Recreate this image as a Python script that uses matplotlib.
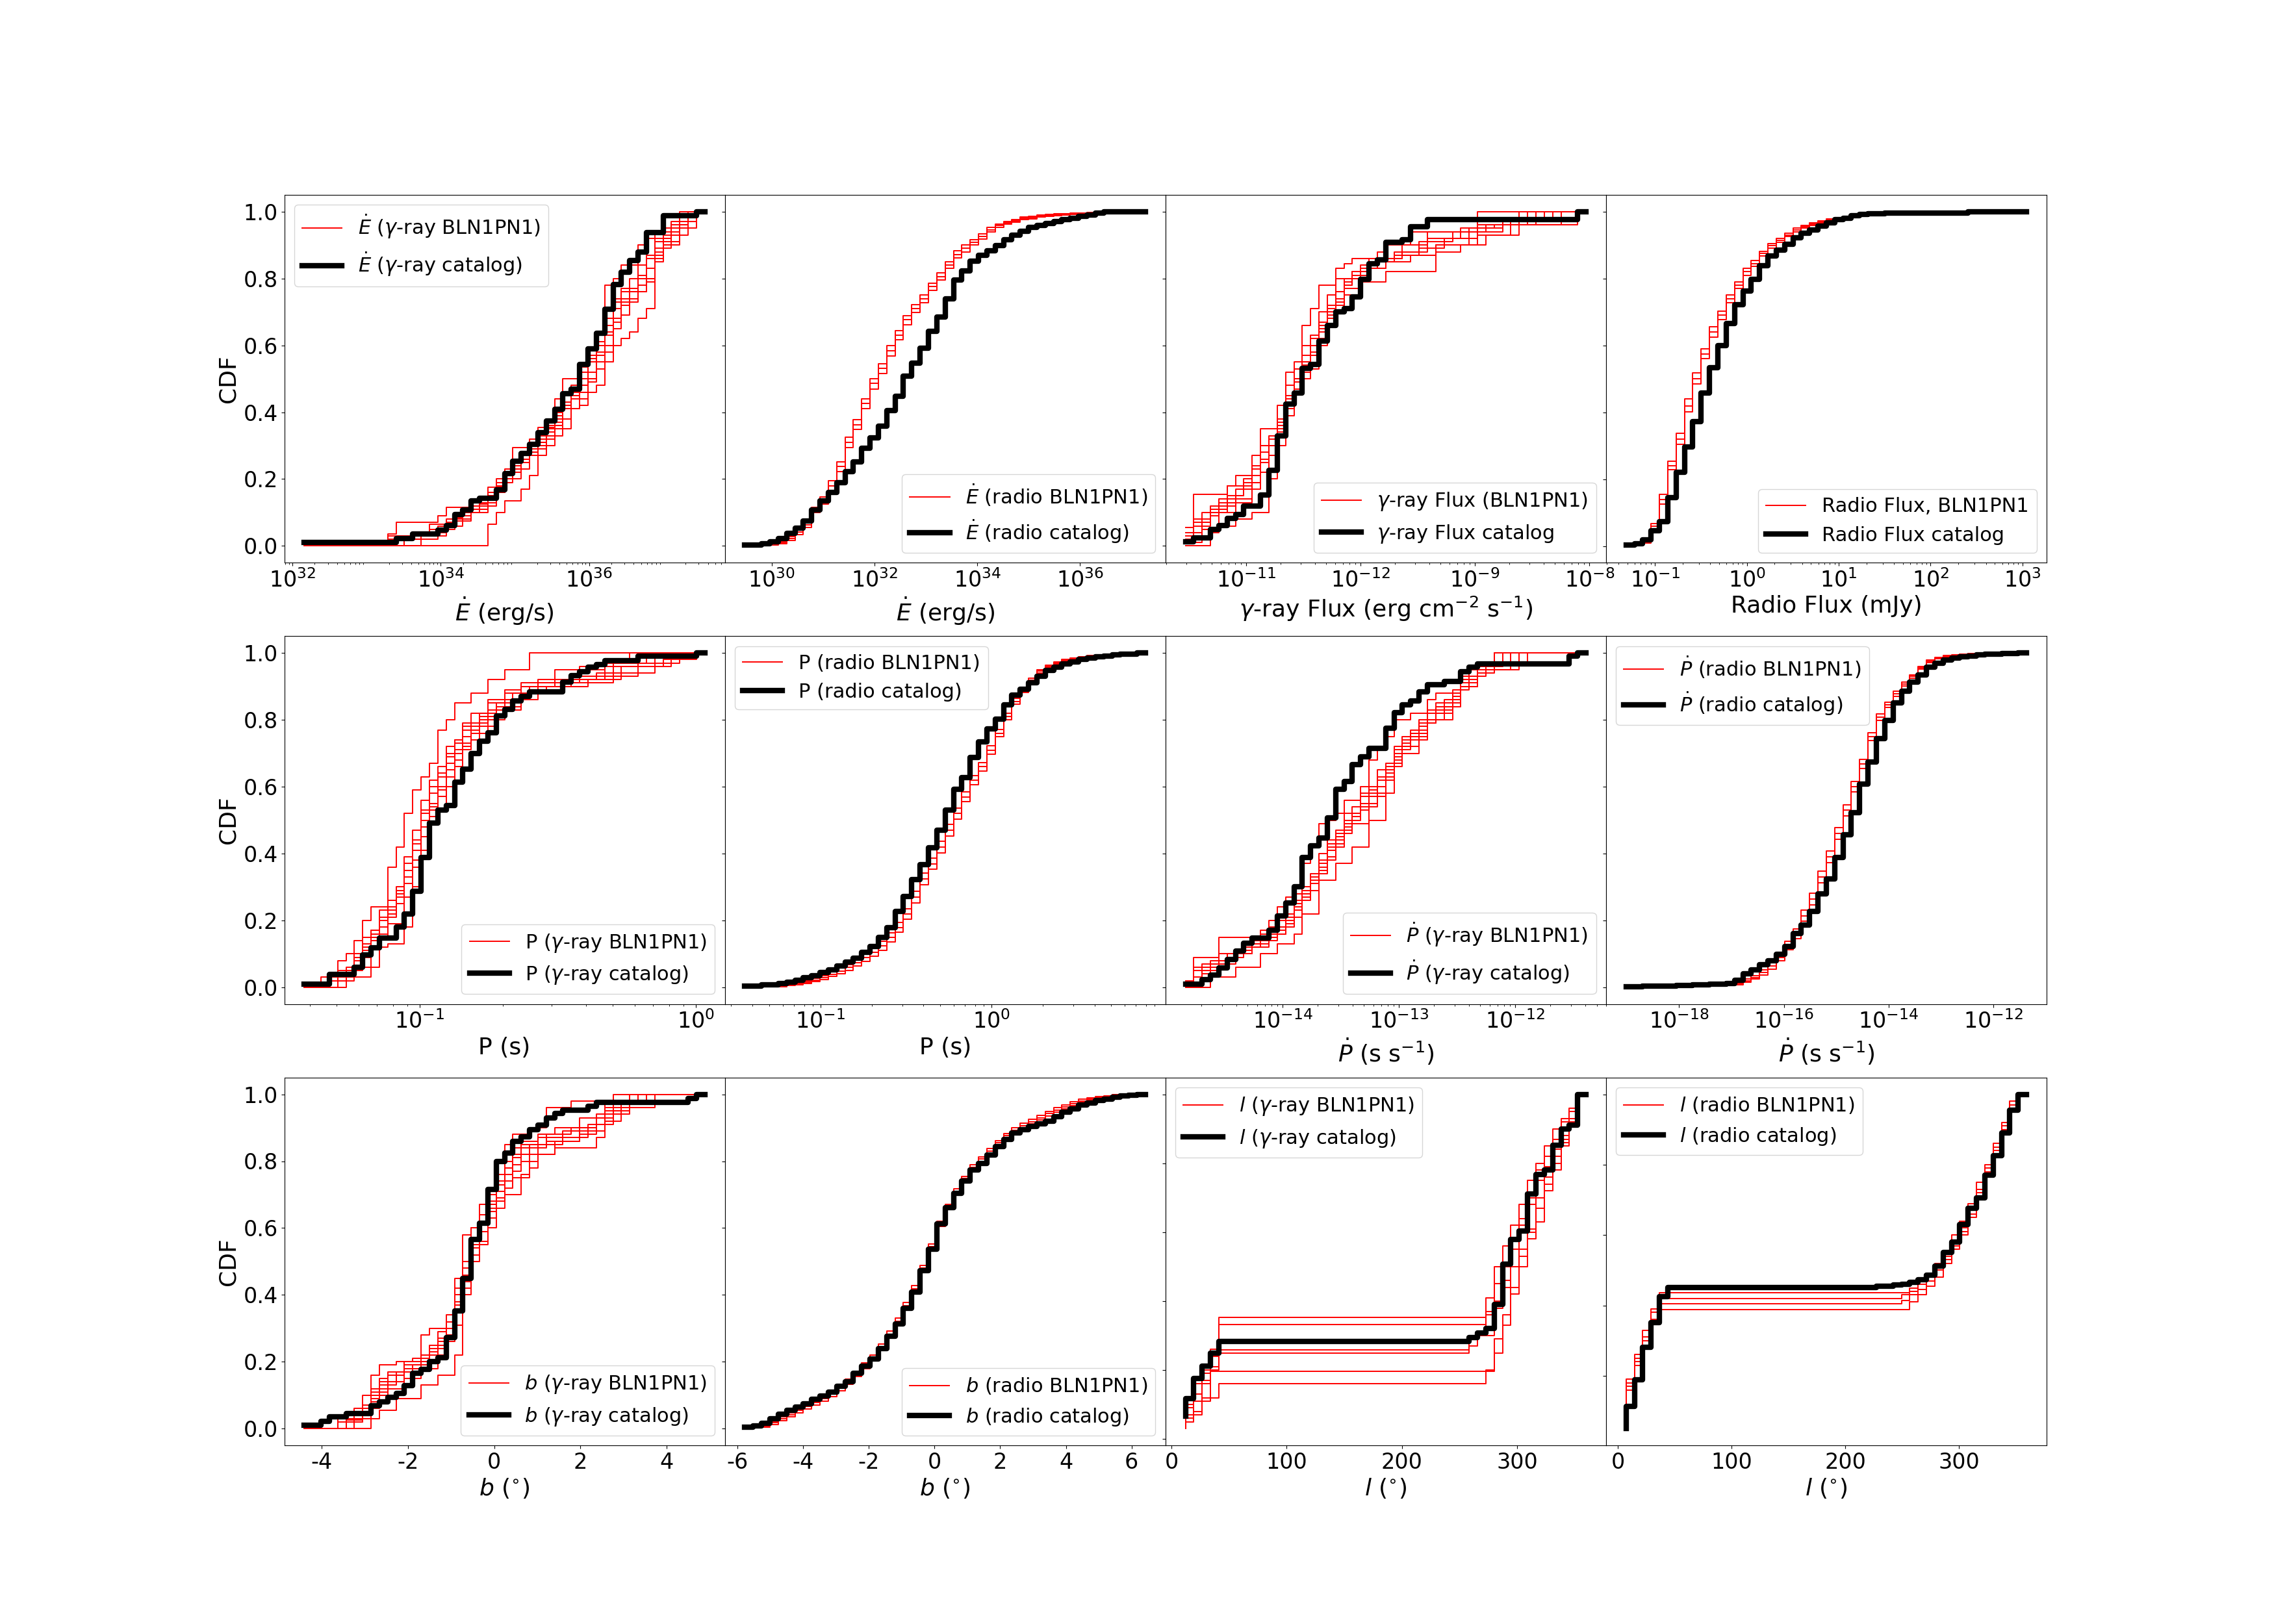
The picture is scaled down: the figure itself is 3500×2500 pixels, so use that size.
import numpy as np
import matplotlib
matplotlib.use("Agg")
import matplotlib.pyplot as plt

plt.rcParams['axes.unicode_minus'] = False

N_BINS = 48   # every curve is a cumulative histogram on 48 common bins

# ---------------------------------------------------------------------------
# data: bin range of each panel, catalog CDF and BLN1PN1 realisations.
# a curve is (value at first edge, steps) ; steps is either a list of
# (bin index, level reached) or the full list of 48 bin levels
# ---------------------------------------------------------------------------

# Edot, gamma-ray pulsars (log10 erg/s)
edot_g_lim = (32.16, 37.56)
edot_g_cat = (0.010, [(11, .023), (13, .035), (16, .047), (17, .061), (18, .095), (19, .108),
                      (20, .134), (21, .143), (23, .167), (24, .217), (25, .253), (26, .277),
                      (27, .304), (28, .338), (29, .374), (30, .408), (31, .455), (32, .469),
                      (33, .543), (34, .589), (35, .637), (36, .709), (37, .782), (38, .819),
                      (39, .854), (40, .879), (41, .938), (43, .988), (47, 1.0)])
edot_g_sim = [
    (0.0, [(10, .036), (11, .071), (16, .09), (17, .115), (20, .13), (22, .175), (24, .22),
           (25, .295), (27, .32), (28, .355), (30, .44), (31, .5), (33, .535), (34, .56),
           (35, .6), (36, .78), (37, .8), (38, .84), (40, .9), (41, .92), (42, .94), (45, 1.0)]),
    (0.0, [(22, .065), (23, .1), (24, .135), (26, .17), (27, .21), (28, .27), (29, .3),
           (30, .35), (32, .41), (33, .42), (34, .46), (35, .48), (36, .55), (37, .6),
           (38, .62), (39, .64), (40, .68), (41, .71), (42, .86), (43, .9), (44, .93),
           (46, .97), (47, 1.0)]),
    (0.0, [(10, .03), (13, .04), (15, .065), (18, .085), (19, .1), (21, .12), (23, .18),
           (24, .23), (26, .25), (27, .3), (28, .33), (30, .37), (31, .42), (32, .47),
           (33, .5), (35, .55), (36, .6), (37, .67), (38, .73), (39, .76), (41, .8),
           (42, .88), (43, .93), (44, .97), (47, 1.0)]),
    (0.0, [(14, .03), (17, .06), (19, .08), (20, .1), (22, .15), (23, .2), (25, .25),
           (26, .28), (28, .31), (29, .35), (30, .38), (31, .45), (33, .48), (34, .55),
           (35, .63), (37, .68), (38, .72), (39, .74), (40, .8), (42, .85), (43, .9),
           (45, .96), (46, 1.0)]),
    (0.0, [(11, .03), (15, .05), (17, .07), (18, .1), (21, .125), (22, .16), (24, .21),
           (25, .23), (26, .26), (27, .29), (29, .32), (30, .4), (31, .41), (33, .44),
           (34, .52), (35, .57), (36, .64), (37, .71), (38, .76), (40, .78), (41, .83),
           (42, .89), (44, .95), (46, .97), (47, 1.0)]),
    (0.0, [(12, .02), (16, .05), (18, .075), (20, .11), (22, .13), (23, .16), (24, .2),
           (26, .23), (27, .28), (28, .3), (29, .33), (31, .41), (32, .46), (33, .48),
           (34, .5), (35, .58), (36, .66), (37, .74), (39, .8), (40, .84), (41, .86),
           (42, .91), (43, .95), (45, .99), (46, 1.0)]),
    (0.0, [(10, .02), (14, .04), (17, .08), (19, .1), (21, .14), (23, .17), (24, .19),
           (25, .24), (26, .27), (28, .32), (29, .36), (30, .39), (31, .43), (32, .48),
           (33, .52), (34, .57), (35, .61), (36, .68), (37, .73), (38, .77), (40, .81),
           (41, .87), (42, .92), (44, .96), (46, 1.0)]),
    (0.0, [(12, .03), (16, .06), (18, .09), (20, .12), (22, .14), (23, .19), (24, .22),
           (26, .26), (27, .31), (29, .34), (30, .36), (31, .38), (32, .44), (33, .46),
           (34, .49), (35, .53), (36, .58), (37, .65), (38, .69), (39, .73), (40, .76),
           (41, .79), (42, .87), (43, .91), (45, .95), (47, 1.0)]),
]

# Edot, radio pulsars (log10 erg/s)
edot_r_lim = (29.48, 37.27)
edot_r_cat = (0.002, [.002, .002, .007, .012, .023, .037, .053, .074, .107, .135, .16, .19,
                      .223, .251, .293, .323, .358, .405, .447, .507, .546, .591, .642, .684,
                      .74, .795, .823, .851, .87, .882, .898, .916, .93, .942, .953, .958,
                      .965, .97, .977, .981, .985, .99, .995] + [1.0] * 5)
edot_r_sim = [
    (0.0, [0, 0, .004, .005, .009, .022, .042, .063, .108, .135, .18, .237, .31, .363, .426,
           .486, .531, .584, .63, .676, .71, .739, .776, .806, .84, .872, .89, .908, .925,
           .946, .958, .967, .973, .98, .982, .987, .988, .99, .992, .993, .994, .995, .997]
     + [1.0] * 5),
    (0.0, [0, .002, .006, .008, .013, .028, .05, .07, .116, .146, .195, .252, .325, .378, .44,
           .5, .545, .6, .643, .688, .722, .75, .786, .816, .85, .882, .9, .916, .933, .952,
           .963, .971, .977, .983, .985, .99, .991, .993, .994, .995, .996, .997, .999]
     + [1.0] * 5),
    (0.0, [0, 0, .002, .003, .006, .016, .034, .056, .1, .125, .166, .222, .295, .348, .41,
           .47, .516, .568, .617, .662, .698, .728, .765, .796, .83, .862, .88, .9, .917, .94,
           .953, .962, .969, .976, .979, .984, .986, .988, .99, .991, .992, .994, .996]
     + [1.0] * 5),
]

# gamma-ray energy flux (log10 erg cm^-2 s^-1)
gflux_lim = (-11.53, -8.03)
gflux_cat = (0.013, [(1, .025), (3, .049), (4, .061), (5, .083), (6, .094), (7, .119),
                     (9, .153), (10, .226), (11, .33), (12, .424), (13, .458), (14, .531),
                     (15, .543), (16, .612), (17, .659), (18, .701), (19, .71), (20, .744),
                     (21, .797), (22, .844), (23, .855), (24, .909), (26, .915), (27, .954),
                     (29, .976), (47, 1.0)])
gflux_sim = [
    (0.055, [(1, .155), (5, .18), (6, .21), (8, .27), (9, .35), (11, .42), (12, .52), (13, .55),
             (14, .66), (15, .71), (16, .78), (18, .83), (19, .845), (20, .86), (23, .88),
             (24, .9), (27, .94), (35, 1.0)]),
    (0.0, [(3, .04), (4, .06), (6, .08), (8, .1), (10, .2), (11, .3), (12, .39), (13, .46),
           (14, .5), (15, .53), (16, .6), (17, .66), (18, .7), (19, .75), (21, .79), (24, .82),
           (30, .88), (33, .9), (36, .93), (40, .96), (47, 1.0)]),
    (0.02, [(1, .08), (3, .12), (5, .14), (6, .17), (8, .24), (9, .3), (10, .33), (11, .37),
            (12, .48), (13, .53), (14, .6), (15, .63), (16, .7), (17, .75), (18, .8), (20, .82),
            (22, .86), (25, .88), (28, .91), (32, .94), (36, .96), (41, 1.0)]),
    (0.04, [(2, .1), (4, .14), (5, .18), (7, .2), (8, .23), (9, .3), (11, .38), (12, .45),
            (13, .5), (14, .57), (16, .66), (17, .72), (19, .78), (20, .8), (21, .84),
            (23, .86), (26, .88), (29, .92), (33, .95), (38, .98), (43, 1.0)]),
    (0.03, [(1, .06), (3, .09), (4, .13), (6, .15), (7, .19), (9, .25), (10, .3), (11, .35),
            (12, .43), (13, .49), (14, .54), (15, .6), (16, .64), (17, .68), (18, .74),
            (19, .77), (21, .8), (22, .83), (24, .85), (27, .87), (30, .9), (35, .93),
            (39, .97), (44, 1.0)]),
    (0.01, [(2, .05), (4, .1), (6, .13), (8, .17), (9, .22), (10, .27), (11, .34), (12, .41),
            (13, .47), (14, .52), (15, .58), (16, .62), (17, .69), (18, .73), (19, .79),
            (20, .82), (22, .84), (23, .86), (26, .9), (29, .94), (34, .95), (37, .96),
            (42, 1.0)]),
    (0.03, [(1, .07), (3, .11), (5, .15), (7, .18), (8, .21), (9, .28), (10, .32), (11, .36),
            (12, .45), (13, .5), (14, .55), (15, .62), (16, .67), (17, .71), (18, .76),
            (19, .8), (21, .83), (23, .85), (25, .87), (28, .89), (31, .92), (35, .96),
            (40, 1.0)]),
    (0.01, [(2, .07), (3, .1), (5, .12), (6, .14), (8, .19), (9, .26), (10, .3), (11, .36),
            (12, .44), (13, .5), (14, .55), (15, .57), (16, .65), (17, .7), (18, .76),
            (19, .78), (20, .81), (22, .83), (24, .86), (26, .87), (30, .9), (34, .94),
            (38, .96), (45, 1.0)]),
]

# radio flux (log10 mJy)
rflux_lim = (-1.314, 3.044)
rflux_cat = (0.003, [.003, .007, .019, .047, .074, .146, .221, .296, .373, .458, .534, .599,
                     .665, .721, .762, .797, .838, .867, .885, .903, .922, .936, .946, .956,
                     .967, .976, .981, .987, .991, .994, .994, .996] + [.996] * 9
             + [.999] * 6 + [1.0])
rflux_sim = [
    (0.002, [.002, .006, .012, .06, .14, .24, .32, .42, .5, .575, .64, .69, .74, .78, .82,
             .845, .875, .898, .915, .93, .945, .955, .963, .97, .975, .979, .982, .985, .988,
             .99, .993, .995, .997, .998] + [1.0] * 14),
    (0.003, [.003, .008, .016, .068, .155, .255, .338, .44, .518, .59, .655, .703, .752, .79,
             .83, .853, .882, .904, .92, .935, .95, .959, .967, .973, .978, .982, .985, .988,
             .99, .992, .995, .997, .998, .999] + [1.0] * 14),
    (0.001, [.001, .004, .009, .052, .127, .228, .305, .402, .485, .56, .625, .677, .728, .77,
             .81, .836, .867, .891, .909, .925, .94, .951, .959, .966, .972, .976, .979, .982,
             .985, .988, .991, .993, .995, .997] + [1.0] * 14),
]

# period, gamma-ray pulsars (log10 s)
p_g_lim = (-1.418, 0.032)
p_g_cat = (0.0104, [(3, .038), (6, .06), (7, .097), (8, .119), (9, .147), (11, .18), (12, .219),
                    (13, .288), (14, .388), (15, .492), (16, .531), (17, .544), (18, .614),
                    (19, .653), (20, .70), (21, .737), (22, .761), (23, .811), (24, .832),
                    (25, .857), (26, .87), (27, .883), (31, .913), (32, .932), (33, .944),
                    (34, .957), (35, .965), (36, .977), (40, .99), (47, 1.0)])
p_g_sim = [
    (0.0, [(2, .03), (4, .08), (5, .1), (6, .14), (7, .2), (8, .24), (10, .36), (11, .42),
           (12, .52), (13, .59), (14, .63), (15, .67), (16, .77), (17, .8), (18, .85),
           (20, .88), (22, .92), (24, .95), (27, 1.0)]),
    (0.0, [(5, .03), (8, .06), (9, .12), (10, .13), (12, .18), (13, .3), (14, .41), (15, .51),
           (16, .53), (17, .6), (18, .66), (19, .72), (20, .74), (21, .78), (23, .83),
           (26, .86), (28, .9), (34, .92), (38, .96), (43, .98), (47, 1.0)]),
    (0.0, [(3, .03), (5, .06), (6, .1), (7, .15), (9, .2), (10, .26), (11, .3), (12, .39),
           (13, .47), (14, .56), (15, .62), (16, .66), (17, .72), (18, .74), (19, .78),
           (21, .8), (22, .85), (24, .89), (26, .9), (28, .92), (35, .94), (42, 1.0)]),
    (0.0, [(4, .04), (6, .09), (7, .11), (8, .16), (10, .22), (11, .25), (12, .33), (13, .41),
           (14, .5), (15, .55), (16, .6), (17, .67), (18, .7), (19, .75), (20, .79), (22, .83),
           (24, .86), (27, .9), (30, .92), (36, .97), (39, 1.0)]),
    (0.0, [(3, .02), (5, .05), (6, .08), (7, .13), (8, .17), (9, .23), (11, .28), (12, .35),
           (13, .43), (14, .52), (15, .58), (16, .63), (17, .69), (18, .73), (19, .77),
           (21, .82), (23, .85), (25, .88), (28, .91), (33, .96), (37, .97), (41, 1.0)]),
    (0.0, [(4, .03), (6, .06), (8, .12), (9, .15), (10, .19), (12, .27), (13, .36), (14, .45),
           (15, .53), (16, .57), (17, .63), (18, .68), (19, .71), (20, .76), (22, .8),
           (24, .84), (26, .88), (29, .9), (32, .93), (40, .97), (45, 1.0)]),
    (0.0, [(3, .03), (4, .05), (6, .09), (7, .12), (8, .17), (9, .21), (10, .24), (11, .29),
           (12, .37), (13, .44), (14, .53), (15, .6), (16, .64), (17, .7), (18, .74), (19, .79),
           (20, .82), (22, .86), (24, .88), (26, .91), (30, .95), (36, .98), (40, 1.0)]),
    (0.0, [(4, .02), (6, .05), (7, .09), (8, .14), (9, .18), (10, .21), (11, .27), (12, .31),
           (13, .38), (14, .48), (15, .54), (16, .59), (17, .65), (18, .71), (19, .73),
           (20, .77), (21, .81), (23, .84), (25, .86), (27, .89), (31, .91), (37, .96),
           (44, 1.0)]),
]

# period, radio pulsars (log10 s)
p_r_lim = (-1.443, 0.90)
p_r_cat = (0.005, [.005, .005, .009, .009, .012, .017, .023, .03, .036, .045, .054, .064,
                   .076, .089, .106, .123, .151, .18, .227, .273, .323, .368, .418, .47,
                   .531, .592, .628, .688, .735, .773, .802, .845, .874, .891, .911, .931,
                   .948, .958, .968, .974, .98, .985, .988, .991, .994, .996, .997, 1.0])
p_r_sim = [
    (0.002, [.002, .002, .003, .003, .004, .008, .012, .017, .023, .03, .04, .05, .06, .075,
             .09, .105, .125, .15, .18, .22, .27, .325, .37, .42, .47, .52, .57, .62, .66,
             .71, .76, .81, .855, .888, .918, .945, .96, .97, .977, .982, .987, .99, .993,
             .996, .998, 1.0, 1.0, 1.0]),
    (0.003, [.003, .003, .004, .005, .006, .01, .015, .021, .028, .036, .047, .058, .069,
             .085, .101, .117, .138, .164, .195, .236, .287, .342, .387, .437, .487, .536,
             .585, .634, .673, .722, .771, .82, .864, .895, .924, .95, .964, .973, .98, .985,
             .989, .992, .995, .997, .999, 1.0, 1.0, 1.0]),
    (0.001, [.001, .001, .002, .002, .003, .006, .009, .013, .018, .024, .033, .042, .051,
             .065, .079, .093, .112, .136, .165, .204, .253, .308, .353, .403, .453, .504,
             .555, .606, .647, .698, .749, .8, .846, .881, .912, .94, .956, .967, .974, .979,
             .985, .988, .991, .995, .997, 1.0, 1.0, 1.0]),
]

# period derivative, gamma-ray pulsars (log10 s/s)
pdot_g_lim = (-14.836, -11.393)
pdot_g_cat = (0.0104, [(2, .023), (3, .036), (4, .058), (5, .084), (6, .108), (7, .132),
                       (8, .148), (10, .171), (11, .214), (12, .253), (13, .301), (14, .388),
                       (15, .423), (16, .446), (17, .507), (18, .592), (19, .616), (20, .666),
                       (21, .69), (22, .714), (24, .775), (25, .822), (26, .845), (27, .857),
                       (28, .883), (29, .906), (31, .915), (33, .944), (34, .958), (35, .967),
                       (46, .99), (47, 1.0)])
pdot_g_sim = [
    (0.01, [(1, .09), (4, .15), (9, .17), (10, .2), (11, .24), (12, .27), (13, .3), (14, .37),
            (15, .42), (16, .49), (17, .5), (18, .52), (19, .56), (21, .6), (22, .68),
            (23, .72), (24, .75), (25, .8), (27, .82), (29, .86), (30, .88), (33, .95),
            (37, 1.0)]),
    (0.0, [(3, .03), (6, .06), (9, .1), (11, .13), (13, .16), (14, .22), (16, .32), (18, .37),
           (20, .42), (22, .5), (24, .58), (25, .66), (26, .7), (28, .75), (29, .8), (32, .86),
           (33, .9), (35, .95), (40, 1.0)]),
    (0.02, [(1, .06), (4, .1), (7, .13), (9, .16), (10, .18), (12, .22), (13, .26), (14, .3),
            (15, .34), (16, .4), (17, .44), (18, .47), (19, .52), (21, .57), (22, .6),
            (23, .65), (25, .7), (26, .74), (27, .77), (29, .82), (31, .86), (33, .92),
            (35, .97), (38, 1.0)]),
    (0.0, [(1, .05), (3, .08), (5, .1), (8, .14), (10, .17), (11, .2), (12, .25), (13, .28),
           (15, .32), (16, .36), (17, .42), (18, .45), (19, .5), (20, .54), (21, .58),
           (23, .62), (24, .66), (25, .72), (27, .76), (28, .79), (30, .84), (32, .88),
           (33, .93), (36, .96), (37, 1.0)]),
    (0.01, [(2, .04), (3, .07), (6, .11), (8, .12), (10, .15), (11, .18), (13, .21), (14, .26),
            (15, .29), (16, .35), (17, .38), (18, .43), (19, .47), (20, .49), (22, .55),
            (23, .58), (24, .63), (25, .68), (26, .72), (28, .78), (29, .83), (32, .87),
            (33, .91), (35, .94), (37, .97), (41, 1.0)]),
    (0.0, [(2, .06), (5, .09), (7, .12), (9, .14), (11, .16), (12, .19), (13, .24), (14, .27),
           (15, .31), (16, .37), (17, .41), (18, .42), (19, .46), (20, .5), (21, .53),
           (22, .57), (24, .62), (25, .67), (26, .73), (27, .76), (29, .8), (31, .84),
           (33, .89), (34, .95), (37, .97), (40, 1.0)]),
    (0.0, [(1, .03), (2, .07), (5, .1), (7, .13), (9, .15), (11, .17), (12, .21), (13, .25),
           (14, .29), (15, .33), (16, .38), (17, .43), (18, .46), (19, .49), (20, .52),
           (21, .55), (22, .59), (23, .63), (24, .67), (25, .71), (26, .75), (28, .8),
           (30, .85), (32, .89), (33, .93), (35, .96), (38, 1.0)]),
    (0.01, [(2, .05), (4, .08), (6, .1), (8, .13), (10, .16), (12, .2), (13, .23), (14, .28),
            (15, .31), (16, .34), (17, .39), (18, .44), (19, .48), (20, .51), (21, .54),
            (23, .6), (24, .64), (25, .69), (26, .71), (27, .74), (29, .79), (30, .82),
            (32, .85), (33, .9), (35, .95), (39, 1.0)]),
]

# period derivative, radio pulsars (log10 s/s)
pdot_r_lim = (-19.015, -11.36)
pdot_r_cat = (0.003, [.003, .003, .004, .004, .005, .005, .007, .007, .008, .008, .01, .01,
                      .012, .023, .041, .054, .069, .08, .1, .123, .162, .188, .227, .28,
                      .325, .388, .457, .523, .609, .674, .744, .798, .851, .885, .913, .935,
                      .958, .97, .978, .984, .988, .991, .994, .996, .996, .998, .998, 1.0])
pdot_r_sim = [
    (0.002, [.002, .002, .003, .003, .004, .004, .005, .005, .006, .006, .007, .008, .008,
             .012, .02, .03, .045, .065, .09, .125, .16, .215, .265, .33, .39, .46, .53, .6,
             .668, .75, .808, .845, .878, .907, .93, .955, .975, .985, .99, .993, .996, .998]
     + [1.0] * 6),
    (0.003, [.003, .003, .004, .004, .005, .005, .006, .006, .007, .008, .009, .01, .011,
             .016, .025, .036, .053, .075, .101, .138, .175, .232, .283, .348, .408, .478,
             .547, .616, .682, .762, .818, .853, .885, .913, .935, .959, .978, .987, .992,
             .995, .997, .999] + [1.0] * 6),
    (0.001, [.001, .001, .002, .002, .003, .003, .004, .004, .005, .005, .006, .006, .006,
             .009, .016, .025, .038, .056, .08, .113, .146, .199, .248, .313, .373, .443,
             .514, .585, .655, .738, .798, .837, .871, .901, .925, .951, .972, .983, .988,
             .991, .995, .997] + [1.0] * 6),
]

# Galactic latitude, gamma-ray pulsars (deg)
b_g_lim = (-4.40, 4.88)
b_g_cat = (0.0104, [(2, .0217), (3, .035), (5, .045), (8, .069), (9, .081), (10, .093),
                    (11, .106), (12, .128), (13, .165), (14, .178), (15, .201), (16, .213),
                    (17, .273), (18, .352), (19, .449), (20, .566), (21, .615), (22, .716),
                    (23, .799), (24, .825), (25, .859), (26, .872), (27, .894), (28, .907),
                    (29, .929), (30, .942), (31, .953), (34, .965), (35, .976), (46, .988),
                    (47, 1.0)])
b_g_sim = [
    (0.0, [(4, .03), (6, .06), (7, .1), (8, .16), (9, .19), (11, .2), (13, .21), (14, .28),
           (15, .3), (17, .34), (18, .45), (19, .58), (20, .6), (21, .67), (22, .72), (23, .8),
           (24, .85), (25, .88), (27, .9), (29, .96), (32, .98), (37, 1.0)]),
    (0.0, [(8, .03), (9, .055), (11, .09), (14, .13), (16, .16), (18, .22), (19, .4), (20, .5),
           (21, .56), (22, .63), (23, .69), (24, .72), (25, .75), (27, .78), (28, .82),
           (30, .84), (35, .87), (36, .96), (38, .97), (40, 1.0)]),
    (0.0, [(5, .025), (7, .07), (8, .12), (10, .16), (12, .19), (14, .22), (15, .25),
           (16, .29), (17, .32), (18, .42), (19, .5), (20, .6), (21, .64), (22, .7), (23, .76),
           (24, .8), (25, .84), (26, .86), (28, .88), (30, .9), (33, .93), (36, .97),
           (40, 1.0)]),
    (0.0, [(4, .02), (7, .05), (8, .09), (9, .13), (11, .16), (12, .18), (14, .2), (15, .23),
           (16, .27), (17, .3), (18, .38), (19, .48), (20, .55), (21, .62), (22, .66),
           (23, .73), (24, .78), (25, .81), (26, .84), (29, .86), (33, .88), (35, .91),
           (37, .95), (39, 1.0)]),
    (0.0, [(6, .03), (8, .06), (9, .11), (10, .14), (12, .15), (14, .18), (16, .24), (17, .27),
           (18, .35), (19, .44), (20, .54), (21, .59), (22, .65), (23, .68), (24, .74),
           (25, .77), (26, .8), (27, .82), (28, .85), (31, .87), (34, .89), (36, .92),
           (38, .96), (42, 1.0)]),
    (0.0, [(5, .02), (7, .04), (8, .08), (9, .1), (10, .12), (12, .17), (13, .19), (15, .2),
           (16, .22), (17, .26), (18, .31), (19, .42), (20, .52), (21, .55), (22, .6),
           (23, .66), (24, .7), (26, .76), (27, .8), (28, .82), (30, .86), (33, .9), (35, .94),
           (39, .97), (41, 1.0)]),
    (0.0, [(5, .03), (7, .06), (8, .1), (9, .14), (11, .17), (13, .19), (14, .21), (15, .24),
           (16, .26), (17, .3), (18, .4), (19, .5), (20, .57), (21, .62), (22, .68), (23, .74),
           (24, .78), (25, .82), (26, .85), (28, .87), (31, .89), (34, .91), (36, .95),
           (38, .98), (40, 1.0)]),
    (0.0, [(4, .03), (6, .05), (8, .11), (9, .15), (10, .17), (12, .2), (14, .22), (16, .25),
           (17, .28), (18, .37), (19, .46), (20, .56), (21, .61), (22, .67), (23, .71),
           (24, .76), (25, .79), (26, .82), (27, .85), (29, .88), (32, .9), (35, .93),
           (37, .97), (41, 1.0)]),
]

# Galactic latitude, radio pulsars (deg)
b_r_lim = (-5.77, 6.42)
b_r_cat = (0.004, [.004, .009, .017, .03, .043, .054, .065, .074, .087, .097, .109, .126,
                   .141, .165, .187, .208, .239, .276, .314, .36, .408, .473, .536, .612,
                   .661, .703, .74, .773, .794, .818, .844, .866, .884, .894, .903, .911,
                   .92, .933, .946, .957, .968, .974, .981, .985, .991, .996, .998, 1.0])
b_r_sim = [
    (0.0, [0.0, .004, .008, .018, .03, .042, .055, .066, .078, .09, .104, .122, .14, .163,
           .188, .212, .245, .283, .322, .368, .418, .48, .545, .612, .664, .71, .748, .782,
           .806, .83, .855, .876, .893, .906, .918, .93, .942, .953, .963, .972, .98, .986,
           .99, .994, .997, 1.0, 1.0, 1.0]),
    (0.0, [.002, .006, .011, .022, .035, .048, .061, .072, .085, .097, .111, .13, .148, .172,
           .197, .221, .254, .292, .331, .377, .427, .489, .553, .62, .671, .717, .755, .789,
           .813, .837, .862, .883, .9, .913, .925, .937, .949, .96, .969, .978, .985, .99,
           .993, .996, .999, 1.0, 1.0, 1.0]),
    (0.0, [0.0, .002, .005, .013, .024, .035, .048, .059, .07, .082, .096, .114, .132, .155,
           .18, .204, .237, .275, .314, .36, .41, .472, .538, .605, .658, .703, .741, .775,
           .799, .823, .848, .869, .886, .899, .911, .923, .935, .946, .957, .966, .975, .982,
           .987, .992, .995, 1.0, 1.0, 1.0]),
]

# Galactic longitude, gamma-ray pulsars (deg)
l_g_lim = (12.1, 359.8)
l_g_cat = (0.066, [(0, .117), (1, .176), (2, .212), (3, .249), (4, .283), (34, .294),
                   (35, .307), (36, .32), (37, .391), (38, .508), (39, .579), (40, .603),
                   (41, .71), (42, .768), (43, .78), (44, .852), (45, .899), (46, .911),
                   (47, 1.0)])
l_g_sim = [
    (0.05, [(0, .12), (1, .16), (2, .19), (3, .26), (4, .353), (36, .41), (37, .5), (38, .56),
            (39, .62), (40, .68), (41, .75), (42, .8), (43, .85), (44, .9), (45, .93),
            (46, .96), (47, 1.0)]),
    (0.03, [(0, .1), (1, .13), (2, .2), (3, .24), (4, .332), (36, .37), (37, .45), (38, .5),
            (39, .58), (40, .64), (41, .7), (42, .78), (43, .82), (44, .87), (45, .92),
            (46, .95), (47, 1.0)]),
    (0.04, [(0, .09), (1, .13), (2, .17), (3, .21), (4, .258), (34, .3), (35, .31), (36, .36),
            (37, .4), (38, .46), (39, .55), (40, .62), (41, .68), (42, .75), (43, .79),
            (44, .84), (45, .88), (46, .93), (47, 1.0)]),
    (0.03, [(0, .07), (1, .11), (2, .16), (3, .2), (4, .25), (34, .27), (35, .3), (37, .38),
            (38, .44), (39, .5), (40, .55), (41, .6), (42, .7), (43, .76), (44, .82), (45, .86),
            (46, .92), (47, 1.0)]),
    (0.03, [(0, .05), (1, .07), (2, .11), (3, .197), (37, .25), (38, .33), (39, .42), (40, .5),
            (41, .58), (42, .63), (43, .72), (44, .78), (45, .85), (46, .93), (47, 1.0)]),
    (0.03, [(0, .06), (1, .08), (2, .12), (4, .161), (36, .2), (37, .29), (38, .36), (39, .44),
            (40, .53), (41, .61), (42, .67), (43, .74), (44, .8), (45, .87), (46, .93),
            (47, 1.0)]),
]

# Galactic longitude, radio pulsars (deg)
l_r_lim = (7.1, 359.5)
l_r_cat = (0.05, [(0, .113), (1, .189), (2, .281), (3, .351), (4, .425), (5, .451), (30, .454),
                  (31, .455), (32, .458), (33, .46), (34, .466), (35, .474), (36, .487),
                  (37, .511), (38, .55), (39, .581), (40, .63), (41, .677), (42, .706),
                  (43, .77), (44, .825), (45, .891), (46, .954), (47, 1.0)])
l_r_sim = [
    (0.1, [(0, .19), (1, .26), (2, .33), (3, .39), (4, .437), (34, .45), (35, .47), (36, .49),
           (37, .52), (38, .55), (39, .6), (40, .64), (41, .69), (42, .75), (43, .8), (44, .86),
           (45, .92), (46, .98), (47, 1.0)]),
    (0.09, [(0, .17), (1, .24), (2, .31), (3, .38), (4, .42), (33, .43), (34, .44), (35, .46),
            (36, .48), (37, .51), (38, .54), (39, .58), (40, .62), (41, .67), (42, .73),
            (43, .79), (44, .85), (45, .91), (46, .97), (47, 1.0)]),
    (0.08, [(0, .16), (1, .23), (2, .3), (3, .36), (4, .405), (33, .415), (34, .43),
            (35, .445), (36, .47), (37, .5), (38, .53), (39, .57), (40, .61), (41, .66),
            (42, .72), (43, .78), (44, .84), (45, .9), (46, .96), (47, 1.0)]),
    (0.1, [(0, .18), (1, .25), (2, .31), (3, .35), (4, .388), (34, .41), (35, .43), (36, .455),
           (37, .48), (38, .52), (39, .56), (40, .6), (41, .65), (42, .71), (43, .77), (44, .83),
           (45, .89), (46, .95), (47, 1.0)]),
]


def cdf_curve(curve):
    """Turn (start, steps) into the 49 values drawn with where='pre'."""
    start, steps = curve
    if len(steps) and isinstance(steps[0], tuple):
        lev = np.full(N_BINS, start, dtype=float)
        for k, v in steps:
            lev[k:] = v
    else:
        lev = np.array(list(steps)[:N_BINS], dtype=float)
        if len(lev) < N_BINS:
            lev = np.concatenate([lev, np.full(N_BINS - len(lev), lev[-1])])
    return np.concatenate([[start], lev])


def bin_edges(lim, log):
    e = np.linspace(lim[0], lim[1], N_BINS + 1)
    return 10 ** e if log else e


panels = [
    # row 1
    dict(lim=edot_g_lim, cat=edot_g_cat, sim=edot_g_sim, log=True, loc='upper left',
         lab=(r'$\dot{E}$ ($\gamma$-ray BLN1PN1)', r'$\dot{E}$ ($\gamma$-ray catalog)'),
         xlabel=r'$\dot{E}$ (erg/s)', ticks=[1e32, 1e34, 1e36]),
    dict(lim=edot_r_lim, cat=edot_r_cat, sim=edot_r_sim, log=True, loc='lower right',
         lab=(r'$\dot{E}$ (radio BLN1PN1)', r'$\dot{E}$ (radio catalog)'),
         xlabel=r'$\dot{E}$ (erg/s)', ticks=[1e30, 1e32, 1e34, 1e36]),
    dict(lim=gflux_lim, cat=gflux_cat, sim=gflux_sim, log=True, loc='lower right',
         lab=(r'$\gamma$-ray Flux (BLN1PN1)', r'$\gamma$-ray Flux catalog'),
         xlabel=r'$\gamma$-ray Flux (erg cm$^{-2}$ s$^{-1}$)',
         ticks=[1e-11, 1e-10, 1e-9, 1e-8],
         ticklabels=[r'$10^{-11}$', r'$10^{-12}$', r'$10^{-9}$', r'$10^{-8}$']),
    dict(lim=rflux_lim, cat=rflux_cat, sim=rflux_sim, log=True, loc='lower right',
         lab=('Radio Flux, BLN1PN1', 'Radio Flux catalog'), xlabel='Radio Flux (mJy)',
         ticks=[1e-1, 1e0, 1e1, 1e2, 1e3]),
    # row 2
    dict(lim=p_g_lim, cat=p_g_cat, sim=p_g_sim, log=True, loc='lower right',
         lab=(r'P ($\gamma$-ray BLN1PN1)', r'P ($\gamma$-ray catalog)'), xlabel='P (s)',
         ticks=[1e-1, 1e0]),
    dict(lim=p_r_lim, cat=p_r_cat, sim=p_r_sim, log=True, loc='upper left',
         lab=('P (radio BLN1PN1)', 'P (radio catalog)'), xlabel='P (s)',
         ticks=[1e-1, 1e0]),
    dict(lim=pdot_g_lim, cat=pdot_g_cat, sim=pdot_g_sim, log=True, loc='lower right',
         lab=(r'$\dot{P}$ ($\gamma$-ray BLN1PN1)', r'$\dot{P}$ ($\gamma$-ray catalog)'),
         xlabel=r'$\dot{P}$ (s s$^{-1}$)', ticks=[1e-14, 1e-13, 1e-12]),
    dict(lim=pdot_r_lim, cat=pdot_r_cat, sim=pdot_r_sim, log=True, loc='upper left',
         lab=(r'$\dot{P}$ (radio BLN1PN1)', r'$\dot{P}$ (radio catalog)'),
         xlabel=r'$\dot{P}$ (s s$^{-1}$)', ticks=[1e-18, 1e-16, 1e-14, 1e-12]),
    # row 3
    dict(lim=b_g_lim, cat=b_g_cat, sim=b_g_sim, log=False, loc='lower right',
         lab=(r'$b$ ($\gamma$-ray BLN1PN1)', r'$b$ ($\gamma$-ray catalog)'),
         xlabel=r'$b$ ($^{\circ}$)', ticks=[-4, -2, 0, 2, 4]),
    dict(lim=b_r_lim, cat=b_r_cat, sim=b_r_sim, log=False, loc='lower right',
         lab=(r'$b$ (radio BLN1PN1)', r'$b$ (radio catalog)'), xlabel=r'$b$ ($^{\circ}$)',
         ticks=[-6, -4, -2, 0, 2, 4, 6]),
    dict(lim=l_g_lim, cat=l_g_cat, sim=l_g_sim, log=False, loc='upper left',
         lab=(r'$l$ ($\gamma$-ray BLN1PN1)', r'$l$ ($\gamma$-ray catalog)'),
         xlabel=r'$l$ ($^{\circ}$)', ticks=[0, 100, 200, 300]),
    dict(lim=l_r_lim, cat=l_r_cat, sim=l_r_sim, log=False, loc='upper left',
         lab=(r'$l$ (radio BLN1PN1)', r'$l$ (radio catalog)'), xlabel=r'$l$ ($^{\circ}$)',
         ticks=[0, 100, 200, 300]),
]

fig, axes = plt.subplots(3, 4, figsize=(35, 25))
plt.subplots_adjust(wspace=0, hspace=0.2)

for i, (ax, p) in enumerate(zip(axes.flat, panels)):
    x = bin_edges(p['lim'], p['log'])
    for j, c in enumerate(p['sim']):
        ax.step(x, cdf_curve(c), where='pre', color='red', lw=1.4,
                label=p['lab'][0] if j == 0 else None)
    ax.step(x, cdf_curve(p['cat']), where='pre', color='black', lw=6, label=p['lab'][1])
    if p['log']:
        ax.set_xscale('log')
    ax.set_xticks(p['ticks'])
    if 'ticklabels' in p:
        ax.set_xticklabels(p['ticklabels'])
    ax.tick_params(labelsize=24)
    ax.set_xlabel(p['xlabel'], fontsize=26)
    if i % 4 == 0:
        ax.set_ylabel('CDF', fontsize=26)
    else:
        ax.tick_params(labelleft=False)
    ax.legend(loc=p['loc'], fontsize=22)

fig.savefig('out.png', dpi=100)
